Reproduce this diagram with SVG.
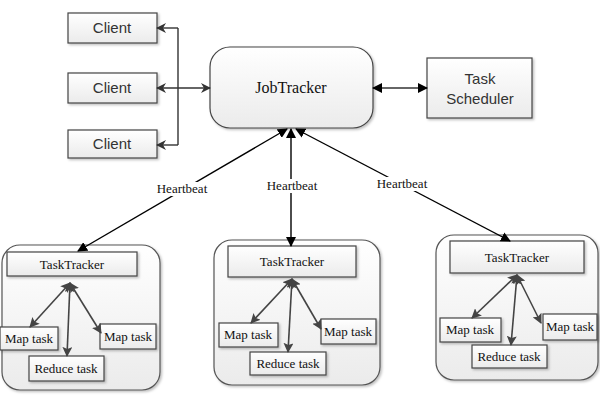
<svg xmlns="http://www.w3.org/2000/svg" width="600" height="400" viewBox="0 0 600 400">
<defs>
<linearGradient id="g" x1="0" y1="0" x2="0" y2="1"><stop offset="0" stop-color="#ffffff"/><stop offset="1" stop-color="#ebebeb"/></linearGradient>
<filter id="sh" x="-10%" y="-10%" width="130%" height="140%"><feDropShadow dx="1.5" dy="1.5" stdDeviation="1" flood-color="#000" flood-opacity="0.25"/></filter>
<marker id="ah" viewBox="0 0 10 10" refX="9" refY="5" markerWidth="10" markerHeight="10" markerUnits="userSpaceOnUse" orient="auto-start-reverse"><path d="M0,0 L10,5 L0,10 L3,5 z" fill="#333"/></marker>
<marker id="hb" viewBox="0 0 10 10" refX="9" refY="5" markerWidth="10" markerHeight="10" markerUnits="userSpaceOnUse" orient="auto-start-reverse"><path d="M0,0 L10,5 L0,10 z" fill="#000"/></marker>
<marker id="ta" viewBox="0 0 10 10" refX="9" refY="5" markerWidth="10" markerHeight="10" markerUnits="userSpaceOnUse" orient="auto-start-reverse"><path d="M0,0 L10,5 L0,10 L2,5 z" fill="#444"/></marker>
<style>
.box{fill:url(#g);stroke:#444;stroke-width:1.2;filter:url(#sh)}
.outer{fill:url(#g);stroke:#555;stroke-width:1.2;filter:url(#sh)}
.sans{font-family:'Liberation Sans',Arial,sans-serif;font-size:15px;fill:#333;text-anchor:middle}
.serif{font-family:'Times New Roman','Liberation Serif','DejaVu Serif',serif;fill:#111;text-anchor:middle}
.small{font-size:13px}
.hbline{stroke:#000;stroke-width:1.4;fill:none;marker-start:url(#hb);marker-end:url(#hb)}
.cl{stroke:#333;stroke-width:1.4;fill:none}
.tl{stroke:#444;stroke-width:1.6;fill:none;marker-start:url(#ta);marker-end:url(#ta)}
.lbl{fill:#fff}
</style>
</defs>
<rect width="600" height="400" fill="#fff"/>

<g id="client1"><rect class="box" x="68" y="13" width="89" height="30"/><text class="sans" x="112" y="33">Client</text></g>
<g id="client2"><rect class="box" x="68" y="73" width="89" height="30"/><text class="sans" x="112" y="93">Client</text></g>
<g id="client3"><rect class="box" x="68" y="130" width="89" height="28"/><text class="sans" x="112" y="149">Client</text></g>

<g id="jobtracker"><rect class="box" x="210" y="47" width="163" height="81" rx="20" ry="20"/><text class="serif" x="291" y="93" font-size="16">JobTracker</text></g>

<g id="scheduler"><rect class="box" x="427" y="58" width="105" height="60"/><text class="sans" x="480" y="84">Task</text><text class="sans" x="480" y="104">Scheduler</text></g>

<g id="tt1">
<rect class="outer" x="2" y="245" width="158" height="145" rx="18" ry="18"/>
<rect class="box" x="7" y="252" width="130" height="24"/><text class="serif small" x="72" y="269">TaskTracker</text>
</g>
<g id="tt1-map1"><rect class="box" x="0" y="327" width="58" height="23"/><text class="serif small" x="29" y="343">Map task</text></g>
<g id="tt1-reduce"><rect class="box" x="29" y="356" width="75" height="25"/><text class="serif small" x="66" y="373">Reduce task</text></g>
<g id="tt1-map2"><rect class="box" x="100" y="324" width="56" height="25"/><text class="serif small" x="128" y="341">Map task</text></g>

<g id="tt2">
<rect class="outer" x="214" y="240" width="166" height="145" rx="18" ry="18"/>
<rect class="box" x="228" y="246" width="128" height="31"/><text class="serif small" x="292" y="266">TaskTracker</text>
</g>
<g id="tt2-map1"><rect class="box" x="219" y="323" width="59" height="24"/><text class="serif small" x="248" y="339">Map task</text></g>
<g id="tt2-reduce"><rect class="box" x="250" y="352" width="76" height="23"/><text class="serif small" x="288" y="368">Reduce task</text></g>
<g id="tt2-map2"><rect class="box" x="321" y="319" width="55" height="25"/><text class="serif small" x="348" y="336">Map task</text></g>

<g id="tt3">
<rect class="outer" x="436" y="235" width="162" height="145" rx="18" ry="18"/>
<rect class="box" x="450" y="241" width="134" height="32"/><text class="serif small" x="517" y="262">TaskTracker</text>
</g>
<g id="tt3-map1"><rect class="box" x="440" y="318" width="61" height="24"/><text class="serif small" x="470" y="334">Map task</text></g>
<g id="tt3-reduce"><rect class="box" x="472" y="345" width="75" height="23"/><text class="serif small" x="509" y="361">Reduce task</text></g>
<g id="tt3-map2"><rect class="box" x="543" y="314" width="54" height="26"/><text class="serif small" x="570" y="331">Map task</text></g>

<g id="connectors">
<path class="cl" d="M178,28 V145" />
<path class="cl" d="M178,28 H157" marker-end="url(#ah)"/>
<path class="cl" d="M178,145 H157" marker-end="url(#ah)"/>
<path class="cl" d="M157,88 H210" marker-start="url(#ah)" marker-end="url(#ah)"/>
<path class="cl" d="M373,88 H427" stroke="#000" marker-start="url(#hb)" marker-end="url(#hb)"/>
<path class="hbline" d="M287,129 L78,251"/>
<path class="hbline" d="M291,129 L291,246"/>
<path class="hbline" d="M296,129 L510,241"/>
<path class="tl" d="M70,283 L30,327"/>
<path class="tl" d="M70,283 L67,356"/>
<path class="tl" d="M70,283 L101,333"/>
<path class="tl" d="M292,279 L251,323"/>
<path class="tl" d="M292,279 L288,352"/>
<path class="tl" d="M292,279 L321,329"/>
<path class="tl" d="M517,275 L472,318"/>
<path class="tl" d="M517,275 L511,345"/>
<path class="tl" d="M517,275 L541,323"/>
<rect class="lbl" x="155" y="182" width="55" height="14"/>
<text class="serif small" x="182" y="193">Heartbeat</text>
<rect class="lbl" x="265" y="179" width="55" height="14"/>
<text class="serif small" x="292" y="190">Heartbeat</text>
<rect class="lbl" x="375" y="177" width="55" height="14"/>
<text class="serif small" x="402" y="188">Heartbeat</text>
</g>
</svg>
